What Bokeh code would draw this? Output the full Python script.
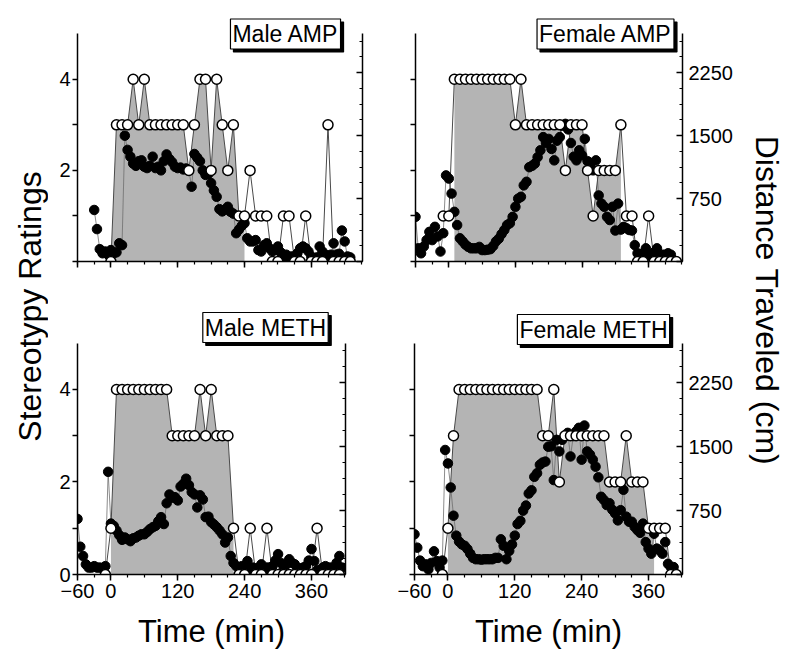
import math
from bokeh.plotting import figure
from bokeh.models import Range1d, LinearAxis, FixedTicker, Label
from bokeh.layouts import row, column
from bokeh.embed import file_html
from bokeh.resources import INLINE

FONT = "Liberation Sans"

# ---------------- data ----------------
# stereotypy ratings (open circles, left axis), every 10 min
rt_male_amp = list(range(0, 431, 10))
rating_male_amp = [0, 3, 3, 3, 4, 3, 4, 3, 3, 3, 3, 3, 3, 3,
                   2, 3, 4, 4, 2, 4, 3, 2, 3, 1, 1, 2, 1, 1, 1, 0, 0, 1, 1, 0,
                   0, 1, 0, 0, 0, 3, 0, 0, 0, 0]
rt_female_amp = list(range(-10, 411, 10))
rating_female_amp = [1, 1, 4, 4, 4, 4, 4, 4, 4, 4, 4, 4, 4, 3, 4,
                     3, 3, 3, 3, 3, 3, 3, 2, 3, 3, 3, 2, 1, 2, 2, 2, 2, 3, 1, 1,
                     0, 0, 1, 0, 0, 0, 0, 0]
rt_male_meth = list(range(-10, 411, 10))
rating_male_meth = [0, 1, 4, 4, 4, 4, 4, 4, 4, 4, 4, 4, 3, 3, 3,
                    3, 3, 4, 3, 4, 3, 3, 3, 1, 0, 0, 1, 0, 0, 1, 0, 0, 0, 0, 0,
                    0, 0, 0, 1, 0, 0, 0, 0]
rt_female_meth = list(range(-10, 411, 10))
rating_female_meth = [0, 1, 3, 4, 4, 4, 4, 4, 4, 4, 4, 4, 4, 4, 4,
                      4, 4, 4, 3, 3, 4, 2, 3, 3, 3, 3, 3, 3, 3, 3, 2, 2, 2, 3, 2,
                      2, 2, 1, 1, 1, 1, 0, 0]

# distance traveled (filled dots, right axis, cm), every 5 min
dt_male_amp = list(range(-30, 431, 5))
dist_male_amp = [614, 386, 147, 98, 119, 81, 136, 98, 109, 217, 195, 1499, 1330, 1249,
                 1167, 1140, 1195, 1205, 1129, 1113, 1140, 1249, 1113, 1129, 1086, 1195,
                 1276, 1222, 1184, 1129, 1113, 1119, 1097, 1108, 1086, 891, 1281, 1238,
                 1195, 1086, 1032, 1043, 934, 847, 771, 624, 597, 619, 652, 592, 570,
                 337, 380, 424, 456, 277, 239, 239, 255, 136, 119, 195, 217, 157, 119,
                 136, 179, 109, 60, 81, 38, 60, 27, 98, 157, 179, 157, 119, 60, 38, 49,
                 179, 119, 81, 60, 81, 217, 81, 92, 369, 239, 60, 49]
dt_female_amp = list(range(-60, 401, 5))
dist_female_amp = [532, 157, 98, 179, 255, 353, 255, 413, 299, 119, 337, 1026, 988, 809,
                   592, 434, 277, 239, 201, 174, 157, 157, 157, 174, 136, 136, 141, 147,
                   185, 239, 272, 326, 375, 434, 456, 532, 652, 749, 771, 907, 950, 1124,
                   1140, 1167, 1243, 1325, 1482, 1412, 1461, 1341, 1205, 1439, 1482, 1618,
                   1640, 1574, 1412, 1249, 1205, 1325, 1265, 1461, 1195, 1167, 1086, 1205,
                   787, 690, 652, 532, 494, 652, 369, 690, 380, 413, 396, 375, 369, 195,
                   98, 60, 98, 157, 81, 60, 109, 157, 60, 81, 81, 98, 81]
dt_male_meth = list(range(-60, 416, 5))
dist_male_meth = [652, 326, 217, 119, 81, 81, 98, 81, 81, 71, 98, 1205, 597, 570, 516,
                  462, 407, 434, 413, 391, 424, 434, 456, 472, 472, 500, 532, 554, 570,
                  624, 673, 592, 836, 939, 901, 907, 869, 1032, 1064, 1124, 1048, 967,
                  939, 787, 929, 880, 673, 679, 614, 586, 554, 516, 472, 375, 434, 217,
                  136, 98, 81, 98, 81, 157, 60, 81, 49, 81, 119, 54, 81, 81, 98, 163,
                  239, 136, 60, 119, 179, 136, 119, 60, 71, 81, 98, 163, 299, 157, 49,
                  49, 81, 98, 81, 81, 81, 136, 217, 81]
dt_female_meth = list(range(-60, 406, 5))
dist_female_meth = [472, 315, 163, 98, 119, 60, 136, 272, 157, 81, 163, 1461, 1303, 1021,
                    690, 456, 386, 353, 337, 299, 244, 195, 179, 179, 174, 179, 179, 179,
                    179, 195, 195, 413, 337, 179, 277, 353, 456, 592, 630, 749, 809, 950,
                    988, 1146, 1189, 1287, 1314, 1325, 1499, 1504, 1108, 1580, 1444, 1580,
                    1624, 1662, 1385, 1624, 1678, 1721, 1347, 1748, 1444, 1406, 1347, 1265,
                    1140, 912, 874, 815, 836, 760, 717, 635, 755, 994, 679, 619, 619, 559,
                    521, 489, 597, 380, 304, 244, 478, 304, 282, 244, 380, 125, 87, 87]

x_major = [-60, 0, 120, 240, 360]
rating_ticks = [0, 1, 2, 3, 4]
dist_major = [0, 750, 1500, 2250]
RATING_MAX = 5
DIST_MAX = 2714

GRAY = "#b4b4b4"


def panel(name, rt, rv, dt, dv, fill_lo, fill_hi, xmax, ymax, box_xy,
          width, height, bl, br, bt, bb,
          left_lab, right_lab, bottom_lab):
    p = figure(width=width, height=height, x_range=Range1d(-60, xmax),
               y_range=Range1d(0, ymax), output_backend="svg", toolbar_location=None,
               min_border_left=bl, min_border_right=br, min_border_top=bt,
               min_border_bottom=bb, background_fill_color="white",
               border_fill_color="white", outline_line_color=None)
    p.extra_y_ranges = {"dist": Range1d(0, DIST_MAX * ymax / RATING_MAX)}
    p.xgrid.visible = False
    p.ygrid.visible = False

    ft = [t for t in rt if fill_lo <= t <= fill_hi]
    fv = [v for t, v in zip(rt, rv) if fill_lo <= t <= fill_hi]
    p.varea(x=ft, y1=[0] * len(ft), y2=fv, fill_color=GRAY)

    p.line(dt, dv, y_range_name="dist", line_color="#6e6e6e", line_width=0.8)
    p.line(rt, rv, line_color="#4a4a4a", line_width=1.0)
    p.scatter(dt, dv, y_range_name="dist", size=9.5, fill_color="black",
              line_color="black")
    p.scatter(rt, rv, size=10, fill_color="white", line_color="black",
              line_width=1.5)

    # bottom axis
    xa = p.xaxis[0]
    xa.ticker = FixedTicker(ticks=x_major, minor_ticks=list(range(-60, 451, 30)))
    xa.axis_line_width = 1.5
    xa.axis_line_color = "black"
    xa.major_tick_line_width = 1.5
    xa.minor_tick_line_width = 1.2
    xa.major_tick_out = 6
    xa.major_tick_in = 0
    xa.minor_tick_out = 3
    xa.minor_tick_in = 0
    xa.major_label_text_font = FONT
    xa.major_label_text_font_size = "20px"
    xa.major_label_text_color = "black"
    xa.major_label_standoff = 3
    if bottom_lab:
        xa.axis_label = "Time (min)"
        xa.axis_label_text_font = FONT
        xa.axis_label_text_font_size = "31px"
        xa.axis_label_text_font_style = "normal"
        xa.axis_label_text_color = "black"
        xa.axis_label_standoff = 13
    else:
        xa.major_label_overrides = {t: "" for t in x_major}

    # left axis (ratings)
    ya = p.yaxis[0]
    ya.bounds = (0, RATING_MAX)
    ya.ticker = FixedTicker(ticks=rating_ticks, minor_ticks=[])
    ya.axis_line_width = 1.5
    ya.major_tick_line_width = 1.5
    ya.major_tick_out = 5
    ya.major_tick_in = 0
    ya.major_label_text_font = FONT
    ya.major_label_text_font_size = "20px"
    ya.major_label_text_color = "black"
    ya.major_label_standoff = 2
    ya.major_label_orientation = "horizontal"
    ya.major_label_overrides = {t: (left_lab.get(t, "")) for t in rating_ticks}

    # right axis (distance)
    ra = LinearAxis(y_range_name="dist", bounds=(0, DIST_MAX),
                    ticker=FixedTicker(ticks=dist_major,
                                       minor_ticks=[187.5 * k for k in range(15)]))
    ra.axis_line_width = 1.5
    ra.major_tick_line_width = 1.5
    ra.minor_tick_line_width = 1.2
    ra.major_tick_in = 6
    ra.major_tick_out = 0
    ra.minor_tick_in = 3
    ra.minor_tick_out = 0
    ra.major_label_text_font = FONT
    ra.major_label_text_font_size = "20px"
    ra.major_label_text_color = "black"
    ra.major_label_standoff = 6
    ra.major_label_orientation = "horizontal"
    if right_lab:
        ra.major_label_overrides = {0: ""}
    else:
        ra.major_label_overrides = {t: "" for t in dist_major}
    p.add_layout(ra, "right")

    bx, by = box_xy
    common = dict(x=bx, y=by, x_units="canvas", y_units="canvas", text=name,
                  text_align="center", text_baseline="middle", text_font=FONT,
                  text_font_size="23px", padding=2, border_line_width=1.2)
    p.add_layout(Label(x_offset=3, y_offset=-3, text_color="black",
                       background_fill_color="black", border_line_color="black",
                       **common))
    p.add_layout(Label(text_color="black", background_fill_color="white",
                       border_line_color="black", **common))
    return p


# top row: frame spans 0..5.4 (box sits above the 0..5 axes)
p_tl = panel("Male AMP", rt_male_amp, rating_male_amp, dt_male_amp, dist_male_amp,
             0, 240, 452, 5.4, (237, 33.5), 344, 300, 29, 30, 15, 39,
             {2: "2", 4: "4"}, False, False)
p_tr = panel("Female AMP", rt_female_amp, rating_female_amp, dt_female_amp,
             dist_female_amp, 10, 310, 421, 5.4, (213, 33.5), 343, 300, 23, 52, 15, 39,
             {}, True, False)
# bottom row: frame spans 0..5.75
p_bl = panel("Male METH", rt_male_meth, rating_male_meth, dt_male_meth,
             dist_male_meth, 0, 220, 421, 5.75, (217, 27), 344, 364, 29, 47, 8, 90,
             {0: "0", 2: "2", 4: "4"}, False, True)
p_br = panel("Female METH", rt_female_meth, rating_female_meth, dt_female_meth,
             dist_female_meth, 0, 370, 421, 5.75, (201, 29), 343, 364, 22, 52, 8, 90,
             {}, True, True)


def strip(width, height, text, x, y, angle, size):
    s = figure(width=width, height=height, x_range=Range1d(0, width),
               y_range=Range1d(0, height), output_backend="svg",
               toolbar_location=None, x_axis_location=None, y_axis_location=None,
               min_border=0, outline_line_color=None,
               background_fill_color="white", border_fill_color="white")
    s.xgrid.visible = False
    s.ygrid.visible = False
    s.add_layout(Label(x=x, y=y, text=text, angle=angle, text_align="center",
                       text_baseline="middle", text_font=FONT,
                       text_font_size=size, text_color="black"))
    return s


strip_l = strip(48, 664, "Stereotypy Ratings", 29, 358, math.pi / 2, "32px")
strip_r = strip(57, 664, "Distance Traveled (cm)", 31, 364, -math.pi / 2, "32px")

layout = row(strip_l, column(row(p_tl, p_tr), row(p_bl, p_br)), strip_r)

open("out.html", "w").write(file_html(layout, INLINE, "chart"))
